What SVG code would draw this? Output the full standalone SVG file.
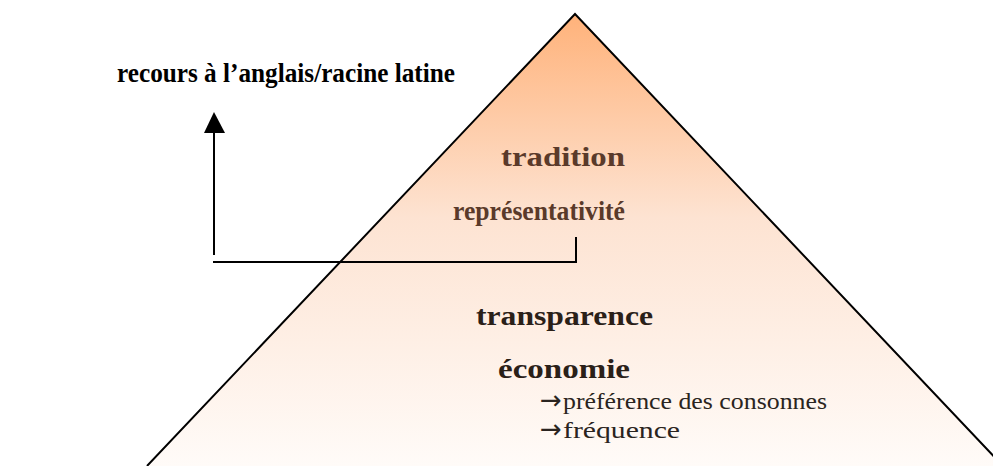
<svg xmlns="http://www.w3.org/2000/svg" width="993" height="466" viewBox="0 0 993 466">
<defs>
<linearGradient id="g" x1="0" y1="0" x2="0" y2="1">
<stop offset="0" stop-color="#FFB27A"/>
<stop offset="0.45" stop-color="#FDE3D2"/>
<stop offset="1" stop-color="#FFFBF8"/>
</linearGradient>
<style>
.b{font-family:"Liberation Serif",serif;font-weight:bold;font-size:28px;}
.r{font-family:"Liberation Serif",serif;font-size:23px;fill:#2a2420;}
.ar{font-family:"DejaVu Sans",sans-serif;font-size:26px;}
.br{fill:#5a3a2a}
.dk{fill:#2a2018}
.ln{stroke:#000;stroke-width:2;fill:none}
</style>
</defs>
<g id="pyramid">
<path d="M575,14 L147,466 L1003,466 Z" fill="url(#g)" stroke="none"/>
<path d="M147,466 L575,14 L1003,466" class="ln"/>
</g>
<g id="connectors">
<path d="M214,255 V130" class="ln"/>
<path d="M214,112 L204,133 L225,133 Z" fill="#000"/>
<path d="M213,262 H576 V237" class="ln"/>
</g>
<g id="label-recours">
<text x="117" y="82" class="b" fill="#000" style="font-size:27px" textLength="338" lengthAdjust="spacingAndGlyphs">recours à l’anglais/racine latine</text>
</g>
<g id="label-tradition">
<text x="501" y="166" class="b br" textLength="124" lengthAdjust="spacingAndGlyphs">tradition</text>
</g>
<g id="label-representativite">
<text x="453" y="220" class="b br" style="font-size:27px" textLength="172" lengthAdjust="spacingAndGlyphs">représentativité</text>
</g>
<g id="label-transparence">
<text x="476" y="325" class="b dk" textLength="177" lengthAdjust="spacingAndGlyphs">transparence</text>
</g>
<g id="label-economie">
<text x="498" y="378" class="b dk" textLength="132" lengthAdjust="spacingAndGlyphs">économie</text>
</g>
<g id="label-sub">
<text x="540" y="409" class="r"><tspan class="ar">→</tspan><tspan x="563" textLength="264" lengthAdjust="spacingAndGlyphs">préférence des consonnes</tspan></text>
<text x="540" y="438" class="r"><tspan class="ar">→</tspan><tspan x="563" textLength="117" lengthAdjust="spacingAndGlyphs">fréquence</tspan></text>
</g>
</svg>
